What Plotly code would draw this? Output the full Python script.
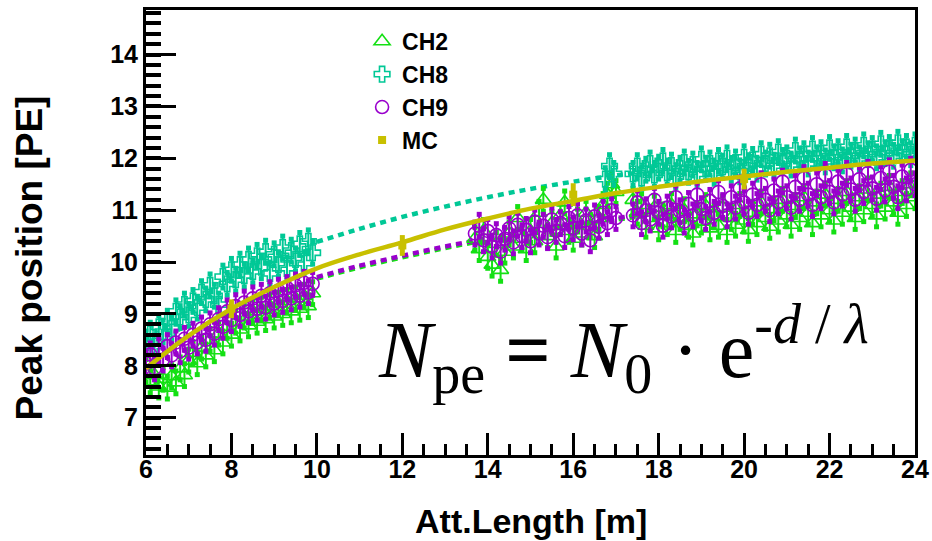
import plotly.graph_objects as go

# ---------------- data ----------------
xA = [6.0, 6.1, 6.2, 6.3, 6.4, 6.5, 6.6, 6.7, 6.8, 6.9, 7.0, 7.1, 7.2, 7.3, 7.4, 7.5, 7.6, 7.7, 7.8, 7.9,
      8.0, 8.1, 8.2, 8.3, 8.4, 8.5, 8.6, 8.7, 8.8, 8.9, 9.0, 9.1, 9.2, 9.3, 9.4, 9.5, 9.6, 9.7, 9.8, 9.9]
xB = [13.7, 13.8, 13.9, 14.0, 14.1, 14.2, 14.3, 14.4, 14.5, 14.6, 14.7, 14.8, 14.9, 15.0, 15.1, 15.2, 15.3,
      15.4, 15.5, 15.6, 15.7, 15.8, 15.9, 16.0, 16.1, 16.2, 16.3, 16.4, 16.5, 16.6, 16.7, 16.8, 16.9, 17.0]
xB8 = [16.75, 16.85, 16.95]
xC = [17.4, 17.5, 17.6, 17.7, 17.8, 17.9, 18.0, 18.1, 18.2, 18.3, 18.4, 18.5, 18.6, 18.7, 18.8, 18.9,
      19.0, 19.1, 19.2, 19.3, 19.4, 19.5, 19.6, 19.7, 19.8, 19.9, 20.0, 20.1, 20.2, 20.3, 20.4, 20.5,
      20.6, 20.7, 20.8, 20.9, 21.0, 21.1, 21.2, 21.3, 21.4, 21.5, 21.6, 21.7, 21.8, 21.9, 22.0, 22.1,
      22.2, 22.3, 22.4, 22.5, 22.6, 22.7, 22.8, 22.9, 23.0, 23.1, 23.2, 23.3, 23.4, 23.5, 23.6, 23.7,
      23.8, 23.9, 24.0]

ch2_A = [7.9, 7.7, 7.82, 7.6, 7.75, 7.58, 7.8, 7.68, 7.95, 7.82, 8.1, 8.25, 8.05, 8.35, 8.2, 8.5, 8.3, 8.62,
         8.45, 8.75, 8.6, 8.85, 8.7, 8.95, 8.78, 9.05, 8.85, 9.1, 8.9, 9.15, 8.95, 9.2, 9.0, 9.25, 9.05, 9.3,
         9.1, 9.35, 9.15, 9.4]
ch8_A = [8.45, 8.62, 8.38, 8.75, 8.66, 8.85, 8.72, 9.05, 8.94, 9.18, 8.98, 9.25, 9.12, 9.42, 9.28, 9.55,
         9.35, 9.18, 9.72, 9.58, 9.85, 9.66, 9.95, 9.74, 10.05, 9.82, 10.12, 9.9, 10.2, 9.78, 10.15, 9.95,
         10.28, 9.88, 10.22, 10.05, 10.35, 9.98, 10.4, 10.18]
ch9_A = [8.05, 8.22, 7.95, 8.3, 8.12, 8.38, 8.2, 8.45, 8.28, 8.52, 8.35, 8.6, 8.45, 8.72, 8.5, 8.8, 8.62,
         8.9, 8.75, 9.05, 8.88, 9.15, 8.98, 9.22, 9.05, 9.3, 9.1, 9.35, 9.12, 9.4, 9.2, 9.45, 9.25, 9.5, 9.3,
         9.55, 9.35, 9.6, 9.42, 9.58]

ch2_B = [10.45, 10.25, 10.6, 10.1, 9.95, 10.35, 9.85, 10.2, 10.55, 10.3, 10.85, 10.45, 10.25, 10.6, 10.4,
         10.95, 11.2, 10.5, 10.75, 10.3, 10.9, 11.15, 10.6, 10.45, 10.8, 10.55, 10.95, 10.7, 10.5, 10.85,
         11.1, 11.3, 11.5, 11.35]
ch8_B = [11.6, 11.85, 11.7]
ch9_B = [10.55, 10.7, 10.42, 10.6, 10.3, 10.52, 10.2, 10.45, 10.65, 10.38, 10.72, 10.5, 10.62, 10.4, 10.78,
         10.55, 10.7, 10.48, 10.82, 10.6, 10.75, 10.5, 10.85, 10.65, 10.9, 10.55, 10.8, 10.42, 10.88, 10.68,
         10.95, 10.75, 11.0, 10.85]

ch2_C = [11.2, 10.95, 11.1, 10.7, 10.85, 11.05, 10.65, 10.9, 10.75, 11.1, 10.6, 10.85, 11.0, 10.7, 10.55,
         10.92, 10.78, 11.08, 10.65, 10.88, 10.7, 11.05, 10.6, 10.85, 10.72, 11.1, 10.8, 10.62, 10.95, 10.75,
         11.15, 10.85, 10.68, 11.02, 10.8, 11.2, 10.9, 10.72, 11.08, 10.85, 11.25, 10.95, 10.75, 11.15, 10.9,
         11.3, 11.0, 10.8, 11.2, 10.95, 11.35, 11.05, 10.85, 11.25, 11.0, 11.4, 11.1, 10.9, 11.3, 11.05, 11.45,
         11.15, 10.95, 11.35, 11.1, 11.5, 11.25]
ch8_C = [11.7, 11.85, 11.62, 11.78, 11.9, 11.68, 11.82, 11.95, 11.72, 11.86, 11.65, 11.8, 11.92, 11.74,
         11.88, 11.7, 11.98, 11.8, 11.9, 11.72, 11.95, 11.84, 12.0, 11.78, 11.92, 11.75, 12.02, 11.85, 11.97,
         11.8, 12.08, 11.9, 12.05, 11.86, 12.12, 11.95, 12.0, 11.88, 12.15, 11.98, 12.08, 11.9, 12.18, 12.0,
         12.1, 11.94, 12.2, 12.02, 12.12, 11.96, 12.22, 12.05, 12.15, 12.0, 12.25, 12.08, 12.18, 12.02, 12.28,
         12.1, 12.2, 12.05, 12.3, 12.12, 12.22, 12.08, 12.25]
ch9_C = [10.9, 11.15, 10.75, 11.0, 10.82, 11.2, 10.95, 10.7, 11.05, 10.88, 11.25, 10.98, 10.78, 11.12, 10.9,
         11.3, 11.02, 10.85, 11.18, 10.95, 11.35, 11.08, 10.9, 11.25, 11.05, 11.42, 11.15, 10.95, 11.3, 11.1,
         11.5, 11.2, 11.0, 11.38, 11.15, 11.55, 11.25, 11.05, 11.45, 11.2, 11.62, 11.3, 11.1, 11.5, 11.25,
         11.68, 11.35, 11.15, 11.55, 11.3, 11.7, 11.4, 11.2, 11.6, 11.35, 11.72, 11.42, 11.22, 11.62, 11.38,
         11.75, 11.45, 11.25, 11.65, 11.4, 11.78, 11.5]

err_ch = 0.22

fit_x = [10, 11, 12, 13, 14, 15, 16, 17, 17.5]
ch2_fit = [9.68, 9.9, 10.09, 10.27, 10.43, 10.57, 10.7, 10.82, 10.87]
ch8_fit = [10.39, 10.64, 10.87, 11.07, 11.25, 11.41, 11.55, 11.67, 11.72]
ch9_fit = [9.71, 9.93, 10.12, 10.3, 10.46, 10.6, 10.73, 10.85, 10.9]

mc_x = [6, 7, 8, 9, 10, 11, 12, 13, 14, 15, 16, 17, 18, 19, 20, 21, 22, 23, 24]
mc_y = [7.95, 8.58, 9.1, 9.52, 9.88, 10.15, 10.38, 10.63, 10.84, 11.03, 11.18, 11.33, 11.45, 11.56, 11.65,
        11.74, 11.82, 11.9, 11.96]
mc_pt_x = [8, 12, 16, 20]
mc_pt_y = [9.1, 10.32, 11.3, 11.6]
mc_pt_err = [0.18, 0.2, 0.22, 0.2]

x_ticks = [6, 8, 10, 12, 14, 16, 18, 20, 22, 24]
y_ticks = [7, 8, 9, 10, 11, 12, 13, 14]

# ---------------- styles ----------------
C_CH2 = "#14e014"
C_CH8 = "#00c896"
C_CH9 = "#9900cc"
C_MC = "#c8c000"
SANS = "Liberation Sans, Arial, sans-serif"
SERIF = "Liberation Serif, Times New Roman, serif"

fig = go.Figure()

# fit curves (dotted)
for fy, col in [(ch2_fit, C_CH2), (ch8_fit, C_CH8), (ch9_fit, C_CH9)]:
    fig.add_trace(go.Scatter(x=fit_x, y=fy, mode="lines", line=dict(color=col, width=4.5, dash="6px,5px", shape="spline"),
                             showlegend=False, hoverinfo="skip"))

def add_channel(name, xs, ys, col, symbol, size):
    allx, ally = [], []
    for xx, yy in zip(xs, ys):
        allx += xx
        ally += yy
    fig.add_trace(go.Scatter(x=allx, y=ally, mode="markers",
                             marker=dict(size=0.1, color=col),
                             error_y=dict(type="constant", value=err_ch, color=col, thickness=2, width=0),
                             showlegend=False, hoverinfo="skip"))
    ends_x = allx + allx
    ends_y = [v - err_ch for v in ally] + [v + err_ch for v in ally]
    fig.add_trace(go.Scatter(x=ends_x, y=ends_y, mode="markers",
                             marker=dict(symbol="square", size=5, color=col, line=dict(width=0)),
                             showlegend=False, hoverinfo="skip"))
    fig.add_trace(go.Scatter(x=allx, y=ally, mode="markers", name="<b>" + name + "</b>",
                             legendgroup=name,
                             marker=dict(symbol=symbol, size=size, color=col, line=dict(color=col, width=1.6))))

add_channel("CH2", [xA, xB, xC], [ch2_A, ch2_B, ch2_C], C_CH2, "triangle-up-open", 14)
add_channel("CH8", [xA, xB8, xC], [ch8_A, ch8_B, ch8_C], C_CH8, "cross-open", 13)
add_channel("CH9", [xA, xB, xC], [ch9_A, ch9_B, ch9_C], C_CH9, "circle-open", 13)

# MC curve
fig.add_trace(go.Scatter(x=mc_x, y=mc_y, mode="lines", line=dict(color=C_MC, width=4.5, shape="spline"),
                         showlegend=False, hoverinfo="skip"))
fig.add_trace(go.Scatter(x=mc_pt_x, y=mc_pt_y, mode="markers", name="<b>MC</b>", legendgroup="MC",
                         marker=dict(symbol="square", size=8, color=C_MC),
                         error_y=dict(type="data", array=mc_pt_err, color=C_MC, thickness=5, width=0)))

axis_common = dict(showline=True, linecolor="black", linewidth=3, mirror=True, showgrid=False, zeroline=False,
                   automargin=False, ticks="inside", tickcolor="black",
                   tickfont=dict(family=SANS, size=25, color="black", weight="bold"))

fig.update_xaxes(range=[6, 24], tickvals=x_ticks, ticklen=22, tickwidth=3,
                 minor=dict(ticks="inside", dtick=0.5, tick0=6, ticklen=11, tickwidth=3, tickcolor="black"),
                 ticklabelstandoff=-10,
                 **axis_common)
fig.update_yaxes(range=[6.28, 14.86], tickvals=y_ticks, ticklen=30, tickwidth=3,
                 minor=dict(ticks="inside", dtick=0.2, tick0=7, ticklen=15, tickwidth=3.5, tickcolor="black"),
                 ticklabelstandoff=0,
                 **axis_common)

fig.update_layout(
    width=932, height=541,
    margin=dict(l=146, r=17, t=10, b=86),
    paper_bgcolor="white", plot_bgcolor="white",
    showlegend=True,
    legend=dict(x=0.281, y=0.978, xanchor="left", yanchor="top", bgcolor="rgba(0,0,0,0)",
                font=dict(family=SANS, size=23, color="black"), tracegroupgap=0, itemwidth=30),
    annotations=[
        dict(text="<b>Peak position [PE]</b>", xref="paper", yref="paper", x=-0.152, y=0.442,
             xanchor="center", yanchor="middle",
             textangle=-90, showarrow=False, font=dict(family=SANS, size=37, color="black")),
        dict(text="<b>Att.Length [m]</b>", xref="paper", yref="paper", x=0.5, y=-0.148,
             xanchor="center", yanchor="middle",
             showarrow=False, font=dict(family=SANS, size=34, color="black")),
        dict(text="<i>N</i><sub>pe</sub> <b>=</b> <i>N</i><sub>0</sub> · e<sup>-<i>d</i> / <i>λ</i></sup>",
             xref="paper", yref="paper", x=0.621, y=0.238, xanchor="center", yanchor="middle",
             showarrow=False, font=dict(family=SERIF, size=80, color="black")),
    ],
)

fig.write_html("out.html", post_script="document.body.style.margin='0px';",
               config={"displayModeBar": False})
